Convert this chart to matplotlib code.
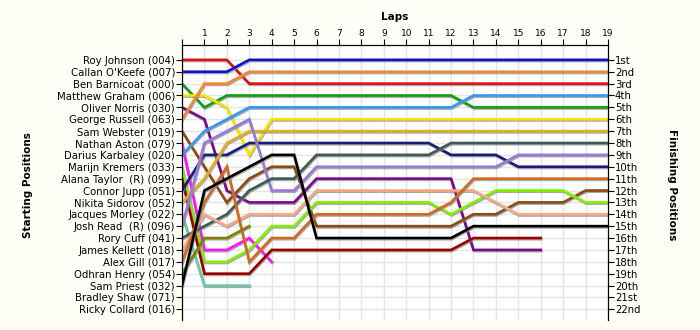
import matplotlib
matplotlib.use("Agg")
import matplotlib.pyplot as plt
import matplotlib.patheffects as pe

# ---------------- data ----------------
grid_names = ["Roy Johnson (004)", "Callan O'Keefe (007)", "Ben Barnicoat (000)",
              "Matthew Graham (006)", "Oliver Norris (030)", "George Russell (063)",
              "Sam Webster (019)", "Nathan Aston (079)", "Darius Karbaley (020)",
              "Marijn Kremers (033)", "Alana Taylor  (R) (099)", "Connor Jupp (051)",
              "Nikita Sidorov (052)", "Jacques Morley (022)", "Josh Read  (R) (096)",
              "Rory Cuff (041)", "James Kellett (018)", "Alex Gill (017)",
              "Odhran Henry (054)", "Sam Priest (032)", "Bradley Shaw (071)",
              "Ricky Collard (016)"]
finish_labels = ["1st", "2nd", "3rd"] + [f"{i}th" for i in range(4, 21)] + ["21st", "22nd"]
laps = list(range(20))

# position per lap (index 0 = grid), one list per driver
pos_red = [1, 1, 1, 3, 3, 3, 3, 3, 3, 3, 3, 3, 3, 3, 3, 3, 3, 3, 3, 3]
pos_blue = [2, 2, 2, 1, 1, 1, 1, 1, 1, 1, 1, 1, 1, 1, 1, 1, 1, 1, 1, 1]
pos_green = [3, 5, 4, 4, 4, 4, 4, 4, 4, 4, 4, 4, 4, 5, 5, 5, 5, 5, 5, 5]
pos_yellow = [4, 4, 5, 9, 6, 6, 6, 6, 6, 6, 6, 6, 6, 6, 6, 6, 6, 6, 6, 6]
pos_purple = [5, 6, 12, 13, 13, 13, 11, 11, 11, 11, 11, 11, 11, 17, 17, 17, 17]
pos_orange = [6, 3, 3, 2, 2, 2, 2, 2, 2, 2, 2, 2, 2, 2, 2, 2, 2, 2, 2, 2]
pos_sbrown = [7, 10, 13, 11, 10, 10, 15, 15, 15, 15, 15, 15, 15, 14, 14, 13, 13, 13, 12, 12]
pos_magenta = [8, 17, 17, 16, 18]
pos_dblue = [9, 7, 6, 5, 5, 5, 5, 5, 5, 5, 5, 5, 5, 4, 4, 4, 4, 4, 4, 4]
pos_lgreen = [10, 18, 18, 17, 15, 15, 13, 13, 13, 13, 13, 13, 14, 13, 12, 12, 12, 12, 13, 13]
pos_dred = [11, 19, 19, 19, 17, 17, 17, 17, 17, 17, 17, 17, 17, 16, 16, 16, 16]
pos_navy = [12, 9, 9, 8, 8, 8, 8, 8, 8, 8, 8, 8, 9, 9, 9, 10, 10, 10, 10, 10]
pos_gold = [13, 11, 8, 7, 7, 7, 7, 7, 7, 7, 7, 7, 7, 7, 7, 7, 7, 7, 7, 7]
pos_aqua = [14, 20, 20, 20]
pos_lav = [15, 8, 7, 6, 12, 12, 10, 10, 10, 10, 10, 10, 10, 10, 10, 9, 9, 9, 9, 9]
pos_slate = [16, 15, 14, 12, 11, 11, 9, 9, 9, 9, 9, 9, 8, 8, 8, 8, 8, 8, 8, 8]
pos_salmon = [17, 14, 15, 14, 14, 14, 12, 12, 12, 12, 12, 12, 12, 12, 13, 14, 14, 14, 14, 14]
pos_choc = [18, 13, 10, 18, 16, 16, 14, 14, 14, 14, 14, 14, 13, 11, 11, 11, 11, 11, 11, 11]
pos_olive = [19, 16, 16, 15]
pos_black = [20, 12, 11, 10, 9, 9, 16, 16, 16, 16, 16, 16, 16, 15, 15, 15, 15, 15, 15, 15]

series = [pos_red, pos_blue, pos_green, pos_yellow, pos_purple, pos_orange, pos_sbrown,
          pos_magenta, pos_dblue, pos_lgreen, pos_dred, pos_navy, pos_gold, pos_aqua,
          pos_lav, pos_slate, pos_salmon, pos_choc, pos_olive, pos_black]
colors = ["#e01010", "#1010cc", "#12a012", "#f5e600", "#7a0a8a", "#f28a30", "#8b4a14",
          "#ff10ff", "#3399ee", "#80f000", "#990000", "#1a1a78", "#e0b020", "#66ccaa",
          "#9a7ad8", "#3e5a56", "#f5a888", "#d2691e", "#808000", "#000000"]

# ---------------- plot ----------------
fig = plt.figure(figsize=(7, 3.3), dpi=100, facecolor="#fffff8")
ax = fig.add_axes([182 / 700, 10 / 330, 426 / 700, 275 / 330])
ax.set_facecolor("white")

shadow = [pe.SimpleLineShadow(offset=(0.5, -0.9), shadow_color="#888888", alpha=0.7),
          pe.Normal()]
for ys, c in zip(series, colors):
    ax.plot(laps[:len(ys)], ys, color=c, lw=1.9, solid_joinstyle="miter",
            path_effects=shadow, zorder=3)

ax.set_xlim(0, 19)
ax.set_ylim(22.9, -0.25)
ax.xaxis.tick_top()
ax.set_xticks(range(0, 20))
ax.set_xticklabels([""] + [str(i) for i in range(1, 20)], fontsize=6.5)
ax.set_yticks(range(1, 23))
ax.set_yticklabels(grid_names, fontsize=7.3)
ax.tick_params(axis="x", length=4, pad=1)
ax.tick_params(axis="y", length=4, pad=1)
ax.grid(True, color="#e4e4e4", lw=1, zorder=0)
ax.set_axisbelow(True)
ax.spines["bottom"].set_visible(False)

ax2 = ax.twinx()
ax2.set_ylim(ax.get_ylim())
ax2.set_yticks(range(1, 23))
ax2.set_yticklabels(finish_labels, fontsize=7.3)
ax2.tick_params(axis="y", length=4, pad=1)
ax2.spines["bottom"].set_visible(False)

fig.text(395 / 700, 1 - 17 / 330, "Laps", ha="center", va="center",
         fontsize=7.5, fontweight="bold")
fig.text(28 / 700, 1 - 185 / 330, "Starting Positions", ha="center", va="center",
         rotation=90, fontsize=7.5, fontweight="bold")
fig.text(672 / 700, 1 - 185 / 330, "Finishing Positions", ha="center", va="center",
         rotation=-90, fontsize=7.5, fontweight="bold")

fig.savefig("out.png", dpi=100, facecolor=fig.get_facecolor())
